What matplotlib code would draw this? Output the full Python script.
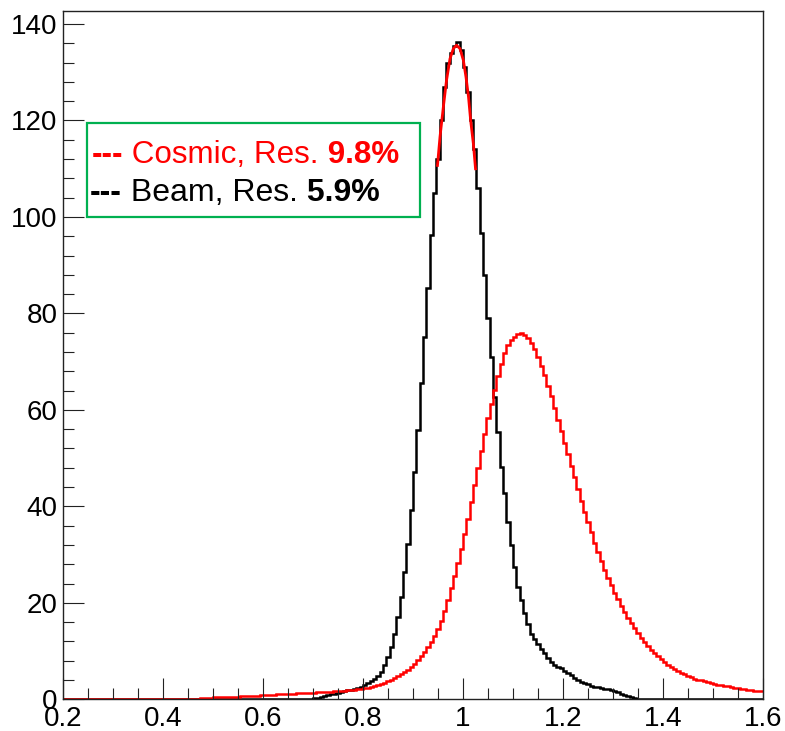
import numpy as np
import matplotlib

matplotlib.use("Agg")
import matplotlib.pyplot as plt
from matplotlib.ticker import MultipleLocator

# histogram binning (ROOT TH1: 210 bins over 0.2 - 1.6)
XMIN, XMAX, NBINS = 0.2, 1.6, 210

# beam (black) bin contents, bins 0..209
beam = ([0.0] * 73 + [
    0.05, 0.1, 0.2, 0.3, 0.4, 0.6, 0.8, 1.0, 1.2, 1.4,
    1.6, 1.7, 1.9, 2.0, 2.2, 2.4, 2.6, 2.9, 3.3, 3.8,
    4.3, 4.9, 5.7, 7.1, 8.8, 10.9, 13.6, 17.1, 21.2, 26.4,
    32.3, 39.2, 47.2, 55.8, 65.6, 75.2, 85.3, 96.3, 105.0, 112.0,
    120.0, 127.0, 132.0, 134.0, 135.5, 136.2, 134.7, 131.0, 126.0, 120.0,
    114.0, 106.0, 96.7, 88.0, 79.0, 71.0, 62.7, 55.5, 48.2, 42.7,
    36.8, 32.0, 27.4, 23.3, 20.5, 17.8, 15.7, 13.6, 12.4, 11.5,
    10.4, 9.5, 8.6, 7.7, 7.2, 6.8, 6.4, 5.9, 5.4, 5.0,
    4.5, 4.0, 3.6, 3.4, 3.1, 2.8, 2.6, 2.5, 2.4, 2.2,
    2.1, 2.0, 1.8, 1.5, 1.2, 0.9, 0.6, 0.4, 0.2, 0.1,
] + [0.0] * 37)

# cosmic (red) bin contents, bins 0..209
cosmic = ([0.0] * 41 + [
    0.3, 0.3, 0.3, 0.3, 0.4, 0.4, 0.4, 0.4, 0.4, 0.5,
    0.5, 0.5, 0.6, 0.6, 0.6, 0.7, 0.7, 0.7, 0.8, 0.8,
    0.8, 0.9, 0.9, 1.0, 1.0, 1.1, 1.1, 1.2, 1.2, 1.3,
    1.3, 1.3, 1.4, 1.4, 1.4, 1.5, 1.5, 1.5, 1.6, 1.6,
    1.7, 1.7, 1.8, 1.8, 1.9, 1.9, 2.0, 2.1, 2.2, 2.3,
    2.4, 2.5, 2.7, 2.9, 3.1, 3.4, 3.7, 4.0, 4.4, 4.8,
    5.2, 5.6, 6.1, 6.7, 7.3, 8.1, 8.9, 9.8, 10.8, 11.9,
    13.1, 14.5, 16.3, 18.3, 20.5, 23.0, 25.6, 28.3, 31.2, 34.2,
    37.4, 41.0, 44.5, 48.0, 51.5, 55.0, 58.3, 61.3, 64.2, 67.0,
    69.5, 71.7, 73.4, 74.5, 75.2, 75.8, 76.0, 75.6, 74.9, 73.9,
    72.7, 71.0, 69.2, 67.2, 65.0, 62.8, 60.4, 58.0, 55.6, 53.2,
    50.8, 48.4, 46.0, 43.6, 41.2, 38.9, 36.7, 34.6, 32.5, 30.6,
    28.7, 26.9, 25.2, 23.6, 22.1, 20.7, 19.4, 18.1, 16.9, 15.8,
    14.7, 13.7, 12.8, 11.9, 11.1, 10.3, 9.6, 8.9, 8.3, 7.7,
    7.2, 6.7, 6.3, 5.9, 5.5, 5.2, 4.9, 4.6, 4.3, 4.1,
    3.9, 3.7, 3.5, 3.3, 3.2, 3.0, 2.9, 2.8, 2.7, 2.5,
    2.4, 2.3, 2.2, 2.1, 2.0, 1.9, 1.8, 1.8, 1.7,
])

# red gaussian fit over the beam peak
fit_x = [0.9487, 0.954, 0.9607, 0.967, 0.974, 0.9807, 0.987,
         0.994, 1.0007, 1.006, 1.011, 1.0153, 1.0207, 1.0253]
fit_y = [110.4, 116.6, 122.8, 128.3, 132.8, 134.9, 135.6,
         134.9, 132.5, 129.0, 124.9, 120.0, 115.2, 109.7]

YMAX = 142.7
FONT = "Liberation Sans"
RED = "#ff0000"
GREEN = "#00b050"
W, H = 785, 731

plt.rcParams["font.family"] = FONT

fig = plt.figure(figsize=(W / 100, H / 100), dpi=100)
ax = fig.add_axes([63 / W, (H - 699.3) / H, 700 / W, 688.3 / H])

edges = np.linspace(XMIN, XMAX, NBINS + 1)
ax.stairs(beam, edges, color="black", lw=1.8, baseline=None)
ax.stairs(cosmic, edges, color=RED, lw=1.8, baseline=None)
ax.plot(fit_x, fit_y, color=RED, lw=2.0, solid_capstyle="butt")

ax.set_xlim(XMIN, XMAX)
ax.set_ylim(0, YMAX)
ax.xaxis.set_major_locator(MultipleLocator(0.2))
ax.xaxis.set_minor_locator(MultipleLocator(0.05))
ax.yaxis.set_major_locator(MultipleLocator(20))
ax.yaxis.set_minor_locator(MultipleLocator(4))
ax.xaxis.set_major_formatter(lambda v, p: f"{v:g}")
ax.tick_params(which="both", direction="in", top=False, right=False,
               labelsize=20, width=0.8, color="#222222")
ax.tick_params(which="major", length=15)
ax.tick_params(which="minor", length=8)
ax.tick_params(axis="x", pad=5)
ax.tick_params(axis="y", pad=4)
for sp in ax.spines.values():
    sp.set_linewidth(1.0)
    sp.set_color("#222222")

# legend box (drawn in pixels from the top-left)
box = plt.Rectangle((87.3 / W, (H - 217.3) / H), 332.7 / W, 94 / H,
                    transform=fig.transFigure, fill=False,
                    edgecolor=GREEN, lw=1.6)
fig.add_artist(box)

rend = fig.canvas.get_renderer()


def rich(x, y, parts, size):
    xf = x / W
    for s, c, wt in parts:
        t = fig.text(xf, (H - y) / H, s, color=c, fontweight=wt,
                     fontsize=size, ha="left", va="baseline")
        xf += t.get_window_extent(rend).width / W


rich(91.7, 163.3, [("---", RED, "bold"),
                   (" Cosmic, Res.", RED, "normal"),
                   (" 9.8%", RED, "bold")], 22.6)
rich(90.0, 200.7, [("---", "black", "bold"),
                   (" Beam, Res.", "black", "normal"),
                   (" 5.9%", "black", "bold")], 23)

fig.savefig("out.png", dpi=100, facecolor="white")
